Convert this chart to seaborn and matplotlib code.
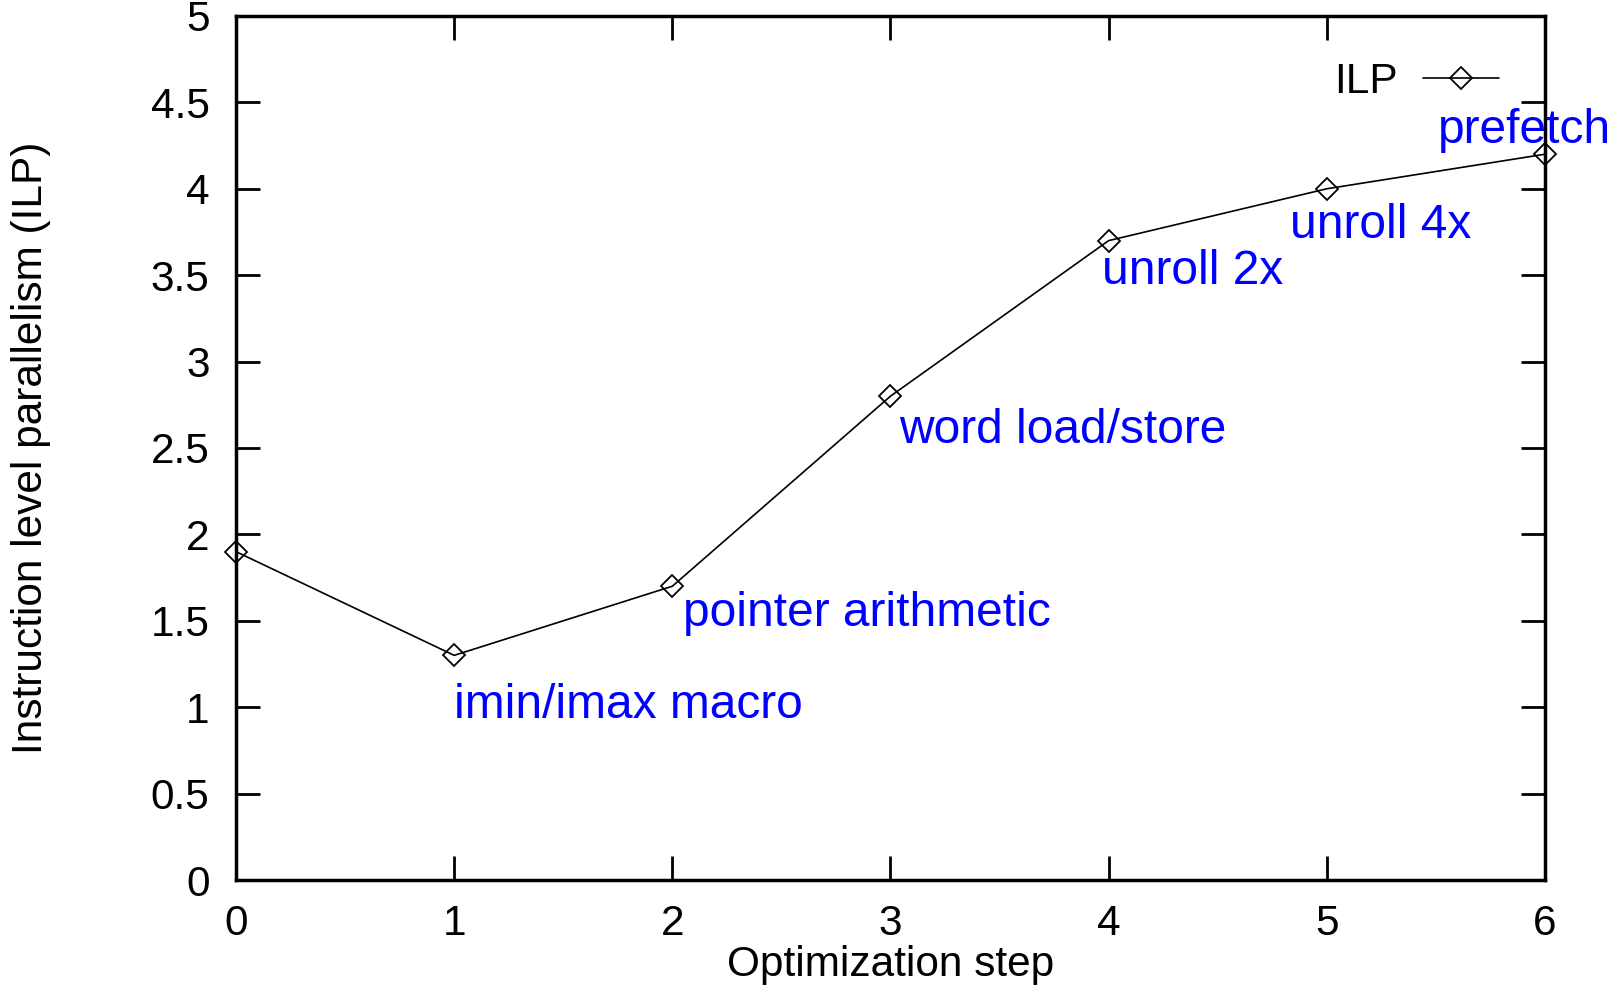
import matplotlib
matplotlib.use("Agg")
import matplotlib.pyplot as plt
import seaborn as sns
import pandas as pd
from matplotlib.ticker import FuncFormatter

# ---------------------------------- Data ----------------------------------

steps = [0, 1, 2, 3, 4, 5, 6]
ilp = [1.9, 1.3, 1.7, 2.8, 3.7, 4.0, 4.2]

step_names = ["imin/imax macro", "pointer arithmetic", "word load/store",
              "unroll 2x", "unroll 4x", "prefetch"]
name_x = [1.0, 2.05, 3.04, 3.97, 4.83, 5.51]
name_y = [1.01, 1.54, 2.60, 3.52, 3.79, 4.34]

df = pd.DataFrame({"step": steps, "ILP": ilp})

# ---------------------------------- Plot ----------------------------------

sns.set_style("ticks")
plt.rcParams['font.family'] = ['Liberation Sans', 'DejaVu Sans']
plt.rcParams['text.color'] = 'black'
plt.rcParams['axes.labelcolor'] = 'black'

fig = plt.figure(figsize=(16.1, 9.86), dpi=100)
ax = fig.add_axes([0.1466, 0.1075, 0.8130, 0.8763])

sns.lineplot(data=df, x="step", y="ILP", ax=ax, color="black", linewidth=1.2,
             marker="D", markersize=11, markerfacecolor="none",
             markeredgecolor="black", markeredgewidth=1.3, label="ILP",
             clip_on=False)

# step names next to each point
for name, x, y in zip(step_names, name_x, name_y):
    ax.text(x, y, name, color="#0000ff", fontsize=34.5, ha="left", va="center",
            clip_on=False)

ax.set_xlim(0, 6)
ax.set_ylim(0, 5)
ax.set_xticks(range(0, 7))
ax.set_yticks([i * 0.5 for i in range(11)])
ax.yaxis.set_major_formatter(FuncFormatter(lambda v, p: f"{v:g}"))

ax.tick_params(direction="in", length=17, width=2, labelsize=30.5,
               top=True, right=True, colors="black")
ax.tick_params(axis="x", pad=17)
ax.tick_params(axis="y", pad=19)
for s in ax.spines.values():
    s.set_linewidth(2.5)
    s.set_color("black")
    s.set_visible(True)

ax.set_xlabel("Optimization step", fontsize=30.5, labelpad=1)
ax.set_ylabel("Instruction level parallelism (ILP)", fontsize=30.5, labelpad=72)

leg = ax.legend(loc="upper right", bbox_to_anchor=(0.994, 0.991), frameon=False,
                markerfirst=False, fontsize=30.5, handlelength=1.8,
                handletextpad=0.6)

plt.savefig("out.png", dpi=100)
plt.close()
